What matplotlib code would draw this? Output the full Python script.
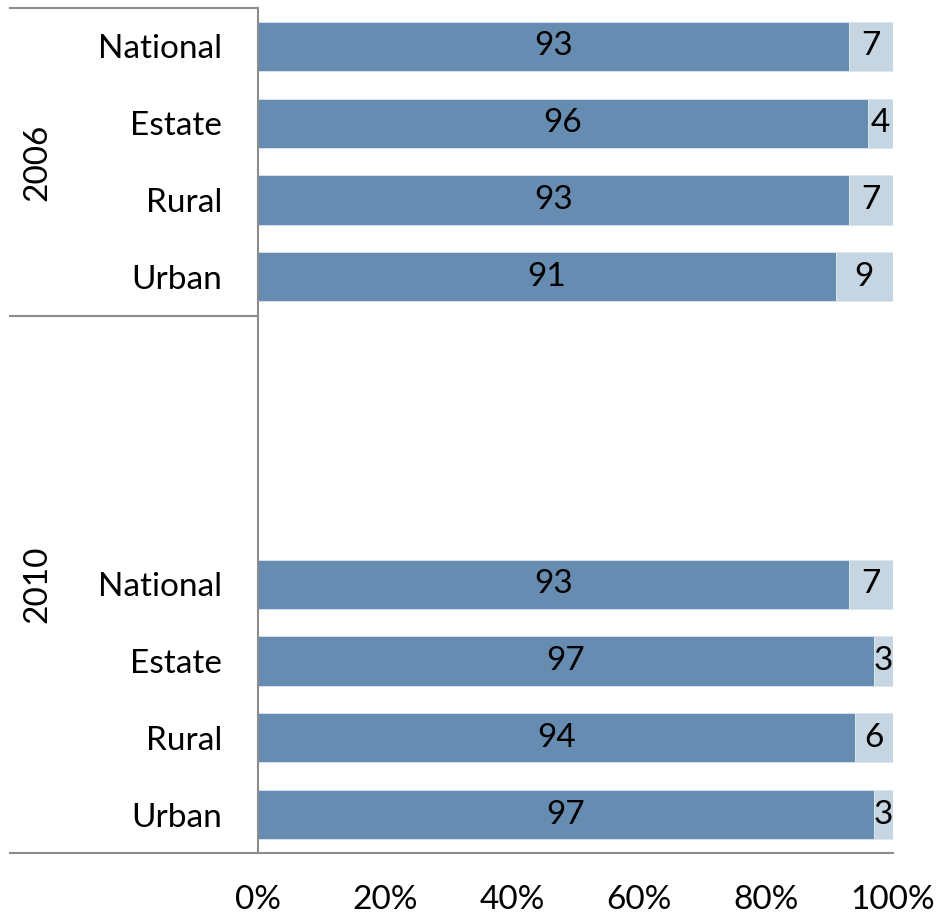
import matplotlib.pyplot as plt
import numpy as np

# data
years = ['2006', '2010']
areas = ['National', 'Estate', 'Rural', 'Urban']
yes_2006 = [93, 96, 93, 91]
no_2006 = [7, 4, 7, 9]
yes_2010 = [93, 97, 94, 97]
no_2010 = [7, 3, 6, 3]
n_blank = 3  # empty slots between the two groups

dark = '#668db1'
light = '#c5d5e2'
grey = '#8c8c8c'
fs = 24

plt.rcParams['font.family'] = ['Lato', 'DejaVu Sans']

labels = areas + [''] * n_blank + areas
yes = yes_2006 + [0] * n_blank + yes_2010
no = no_2006 + [0] * n_blank + no_2010
pos = np.arange(len(labels))

fig = plt.figure(figsize=(9.36, 9.16), dpi=100)
ax = fig.add_axes([258/936, 1 - 853/916, (893 - 258)/936, (853 - 8)/916])

ax.barh(pos, yes, height=0.64, color=dark, edgecolor='#dfe6ee', linewidth=0.6)
ax.barh(pos, no, left=yes, height=0.64, color=light, edgecolor='#dfe6ee', linewidth=0.6)

for p, a, b in zip(pos, yes, no):
    if a + b == 0:
        continue
    ax.text(a / 2, p, str(a), ha='center', va='center', fontsize=fs)
    ax.text(a + b / 2, p, str(b), ha='center', va='center', fontsize=fs)

ax.set_xlim(0, 100)
ax.set_ylim(len(labels) - 0.5, -0.5)
ax.set_yticks(pos)
ax.set_yticklabels(labels, fontsize=fs)
ax.set_xticks(np.arange(0, 101, 20))
ax.set_xticklabels(['%d%%' % v for v in range(0, 101, 20)], fontsize=fs)
ax.tick_params(axis='y', length=0, pad=26)
ax.tick_params(axis='x', length=0, pad=23)

for s in ['top', 'right']:
    ax.spines[s].set_visible(False)
ax.spines['left'].set_color(grey)
ax.spines['bottom'].set_color(grey)
ax.spines['left'].set_linewidth(1.5)
ax.spines['bottom'].set_linewidth(1.5)

# group separators and year labels in figure pixels
def fy(py):
    return 1 - py / 916

for py in [8, 316, 853]:
    fig.add_artist(plt.Line2D([10/936, 258/936], [fy(py), fy(py)], color=grey, lw=1.5))
fig.text(37/936, fy(162), years[0], rotation=90, ha='center', va='center', fontsize=fs)
fig.text(37/936, fy(584), years[1], rotation=90, ha='center', va='center', fontsize=fs)

fig.savefig('out.png', dpi=100)
